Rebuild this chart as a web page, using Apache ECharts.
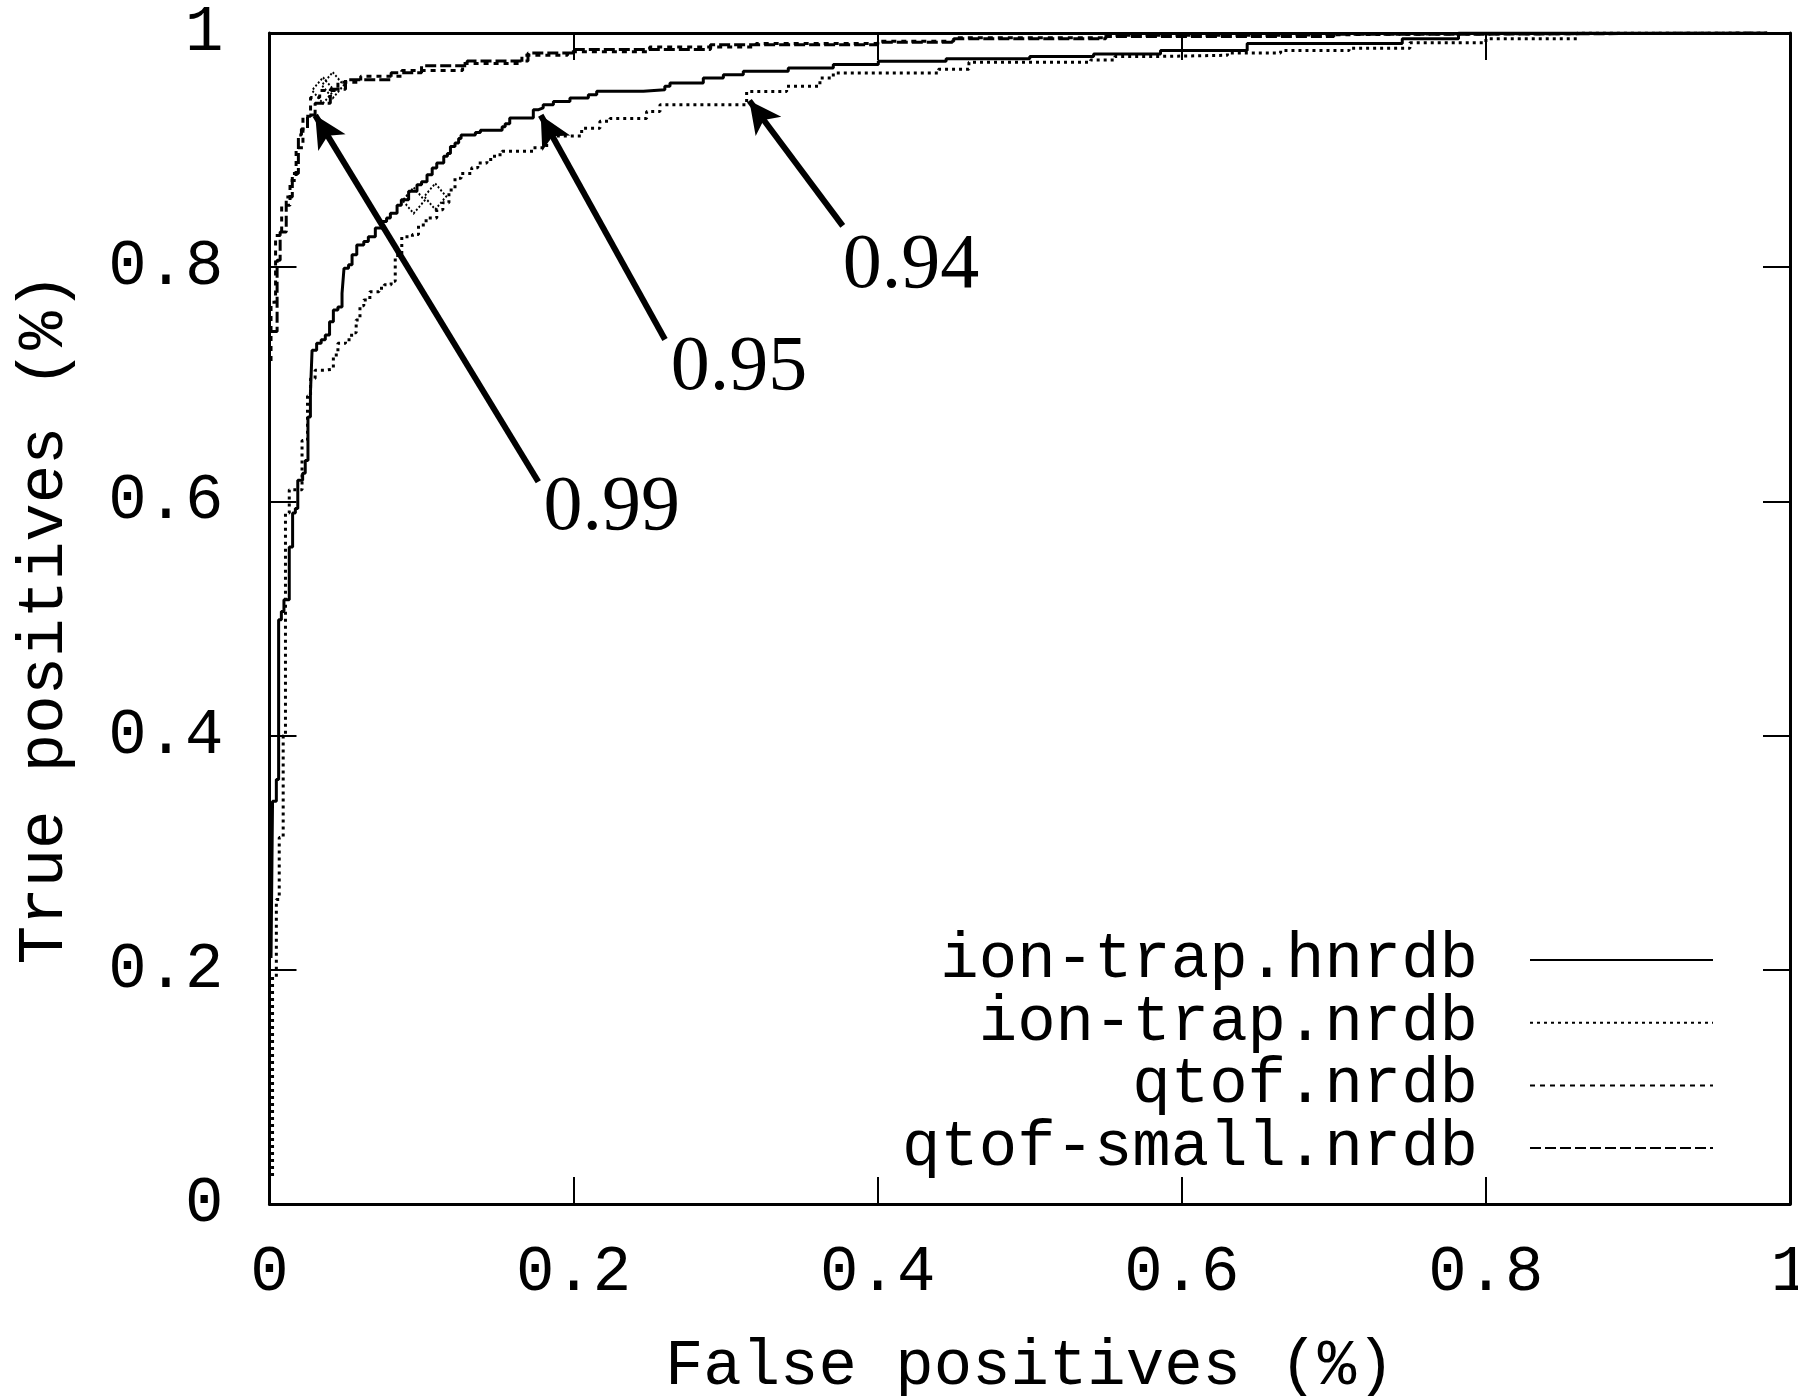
<!DOCTYPE html>
<html><head><meta charset="utf-8">
<script src="https://cdn.jsdelivr.net/npm/echarts@6/dist/echarts.min.js"></script>
<style>html,body{margin:0;padding:0;background:#fff}#c{width:1798px;height:1396px}</style>
</head><body><div id="c"></div>
<script>
// ---- data ----
const seriesNames = ['ion-trap.hnrdb', 'ion-trap.nrdb', 'qtof.nrdb', 'qtof-small.nrdb'];

const ionTrapHnrdb = [
  [0.001,0.21],[0.002,0.344],[0.0045,0.3625],[0.006,0.499],[0.0078,0.506],[0.0095,0.516],
  [0.013,0.561],[0.0152,0.590],[0.017,0.594],[0.0186,0.618],[0.0218,0.624],[0.0235,0.635],
  [0.0253,0.672],[0.0269,0.692],[0.028,0.729],[0.031,0.735],[0.034,0.738],[0.0367,0.742],
  [0.0395,0.7535],[0.042,0.7635],[0.045,0.766],[0.0477,0.7777],[0.049,0.799],[0.052,0.802],
  [0.0543,0.8107],[0.0574,0.819],[0.062,0.822],[0.065,0.826],[0.0696,0.8335],[0.074,0.839],
  [0.077,0.842],[0.0795,0.846],[0.0839,0.853],[0.0867,0.8577],[0.0915,0.8648],[0.097,0.8705],
  [0.1,0.873],[0.1036,0.879],[0.107,0.8847],[0.110,0.889],[0.1146,0.8947],[0.117,0.897],
  [0.119,0.903],[0.122,0.906],[0.1244,0.910],[0.126,0.913],[0.1354,0.915],[0.1387,0.917],
  [0.153,0.920],[0.155,0.9225],[0.158,0.9274],[0.1735,0.9345],[0.177,0.936],[0.180,0.9388],
  [0.1867,0.9416],[0.1976,0.9445],[0.2097,0.9473],[0.2152,0.9502],[0.2459,0.9516],[0.26,0.9545],
  [0.2634,0.9573],[0.2853,0.9616],[0.2985,0.9644],[0.3116,0.9673],[0.3412,0.9701],[0.3708,0.973],
  [0.4004,0.9758],[0.445,0.978],[0.5,0.980],[0.542,0.982],[0.586,0.985],[0.643,0.991],
  [0.745,0.995],[0.782,1.0],[0.985,1.0]
];

const ionTrapNrdb = [
  [0.002,0.024],[0.002,0.194],[0.0045,0.26],[0.0064,0.313],[0.009,0.40],[0.0105,0.59],
  [0.013,0.61],[0.0214,0.652],[0.025,0.69],[0.027,0.705],[0.03,0.712],[0.036,0.713],
  [0.042,0.725],[0.045,0.735],[0.05,0.738],[0.054,0.744],[0.057,0.755],[0.0595,0.767],
  [0.062,0.772],[0.066,0.779],[0.072,0.782],[0.0755,0.785],[0.08,0.788],[0.0827,0.81],
  [0.087,0.826],[0.094,0.828],[0.098,0.836],[0.103,0.842],[0.11,0.849],[0.114,0.855],
  [0.118,0.866],[0.122,0.876],[0.126,0.88],[0.133,0.885],[0.137,0.889],[0.143,0.892],
  [0.148,0.896],[0.153,0.899],[0.1735,0.902],[0.1823,0.909],[0.1888,0.912],[0.2053,0.9186],
  [0.2173,0.9246],[0.2239,0.927],[0.248,0.933],[0.2568,0.9388],[0.3138,0.950],[0.3401,0.9545],
  [0.362,0.9616],[0.3708,0.9658],[0.44,0.969],[0.46,0.975],[0.54,0.977],[0.556,0.980],
  [0.586,0.981],[0.63,0.983],[0.665,0.985],[0.71,0.987],[0.75,0.9916],[0.8,0.995],
  [0.86,1.0],[0.985,1.0]
];

const qtofNrdb = [
  [0.001,0.72],[0.001,0.77],[0.004,0.78],[0.004,0.827],[0.008,0.853],[0.0135,0.874],
  [0.0175,0.902],[0.022,0.929],[0.027,0.945],[0.033,0.951],[0.045,0.958],[0.06,0.963],
  [0.087,0.968],[0.127,0.974],[0.166,0.981],[0.196,0.984],[0.25,0.988],[0.32,0.991],
  [0.4,0.993],[0.45,0.996],[0.55,0.998],[0.65,0.999],[0.75,1.0],[0.985,1.0]
];

const qtofSmallNrdb = [
  [0.001,0.745],[0.005,0.77],[0.005,0.806],[0.007,0.83],[0.011,0.86],[0.015,0.88],
  [0.019,0.913],[0.021,0.918],[0.025,0.93],[0.03,0.94],[0.04,0.952],[0.05,0.96],
  [0.08,0.966],[0.1,0.972],[0.13,0.976],[0.17,0.983],[0.2,0.986],[0.29,0.99],
  [0.4,0.992],[0.45,0.995],[0.55,0.997],[0.7,0.999],[0.8,1.0],[0.985,1.0]
];

// small diamond marks on the curves
const qtofDiamonds = [[0.0352,0.951],[0.0416,0.9554]];
const ionDiamonds = [[0.0948,0.857],[0.109,0.8604]];

// annotations: label text, arrow tail, arrow head (data coordinates)
const annotLabels = ['0.99', '0.95', '0.94'];
const arrowTails = [[0.1768,0.6168],[0.2601,0.7383],[0.377,0.8353]];
const arrowHeads = [[0.0301,0.9297],[0.1784,0.9297],[0.3156,0.9422]];
const labelAnchors = [[0.1802,0.5935],[0.2639,0.7139],[0.377,0.8005]];

const xTitle = 'False positives (%)';
const yTitle = 'True positives (%)';

// ---- chart ----
const MONO = 'Liberation Mono';
const FS = 64;

function diamondMarks(coords) {
  return {
    silent: true, symbol: 'diamond', symbolSize: [22, 26],
    itemStyle: {color: 'rgba(0,0,0,0)', borderColor: '#000', borderWidth: 2, borderType: [2, 2]},
    label: {show: false},
    data: coords.map(c => ({coord: c}))
  };
}

function lineSeries(name, data, type, width, extra) {
  return Object.assign({
    name, type: 'line', data, step: 'end', symbol: 'none', showSymbol: false,
    lineStyle: {color: '#000', width, type}, itemStyle: {color: '#000'}, z: 3
  }, extra || {});
}

const axisCommon = {
  type: 'value', min: 0, max: 1, interval: 0.2,
  splitLine: {show: false},
  axisLine: {show: true, onZero: false, lineStyle: {color: '#000', width: 3}},
  axisTick: {show: true, inside: true, length: 27, lineStyle: {color: '#000', width: 2}}
};

const chart = echarts.init(document.getElementById('c'));
chart.setOption({
  animation: false,
  backgroundColor: '#fff',
  grid: {left: 269.5, right: 8, top: 33, bottom: 192, containLabel: false, outerBoundsMode: 'none'},
  xAxis: [
    Object.assign({}, axisCommon, {
      position: 'bottom', name: xTitle, nameLocation: 'middle', nameGap: 131,
      nameTextStyle: {fontFamily: MONO, fontSize: FS, color: '#000'},
      axisLabel: {fontFamily: MONO, fontSize: FS, color: '#000', margin: 37}
    }),
    Object.assign({}, axisCommon, {position: 'top', axisLabel: {show: false}})
  ],
  yAxis: [
    Object.assign({}, axisCommon, {
      position: 'left', name: yTitle, nameLocation: 'middle', nameGap: 192,
      nameTextStyle: {fontFamily: MONO, fontSize: FS, color: '#000'},
      axisLabel: {fontFamily: MONO, fontSize: FS, color: '#000', margin: 46}
    }),
    Object.assign({}, axisCommon, {position: 'right', axisLabel: {show: false}})
  ],
  legend: {
    data: seriesNames, orient: 'vertical', align: 'right',
    right: 84, top: 928, padding: 0, itemGap: -1.3,
    itemWidth: 183, itemHeight: 14, selectedMode: false,
    lineStyle: {width: 2},
    itemStyle: {color: 'rgba(0,0,0,0)', borderWidth: 0, opacity: 0},
    textStyle: {fontFamily: MONO, fontSize: FS, color: '#000', lineHeight: 63, padding: [0, 47, 0, 0]}
  },
  series: [
    lineSeries(seriesNames[0], ionTrapHnrdb, 'solid', 3, {markPoint: diamondMarks([ionDiamonds[0]])}),
    lineSeries(seriesNames[1], ionTrapNrdb, [3, 4], 3, {markPoint: diamondMarks([ionDiamonds[1]])}),
    lineSeries(seriesNames[2], qtofNrdb, [5, 5], 3, {markPoint: diamondMarks([qtofDiamonds[0]])}),
    lineSeries(seriesNames[3], qtofSmallNrdb, [11, 4], 3, {markPoint: diamondMarks([qtofDiamonds[1]])}),
    {
      name: 'annotations', type: 'scatter', symbolSize: 0, z: 5,
      itemStyle: {opacity: 1},
      data: labelAnchors.map((p, i) => ({value: [p[0], p[1]], name: annotLabels[i]})),
      label: {show: true, position: 'right', distance: 0, formatter: p => p.name,
        fontFamily: 'Liberation Serif', fontSize: 78, color: '#000', opacity: 1},
      markLine: {
        silent: true, symbol: ['none', 'arrow'], symbolSize: [24, 32],
        lineStyle: {color: '#000', width: 6, type: 'solid', opacity: 1},
        label: {show: false},
        data: arrowTails.map((t, i) => [{coord: t}, {coord: arrowHeads[i]}])
      }
    }
  ]
});
</script>
</body></html>
